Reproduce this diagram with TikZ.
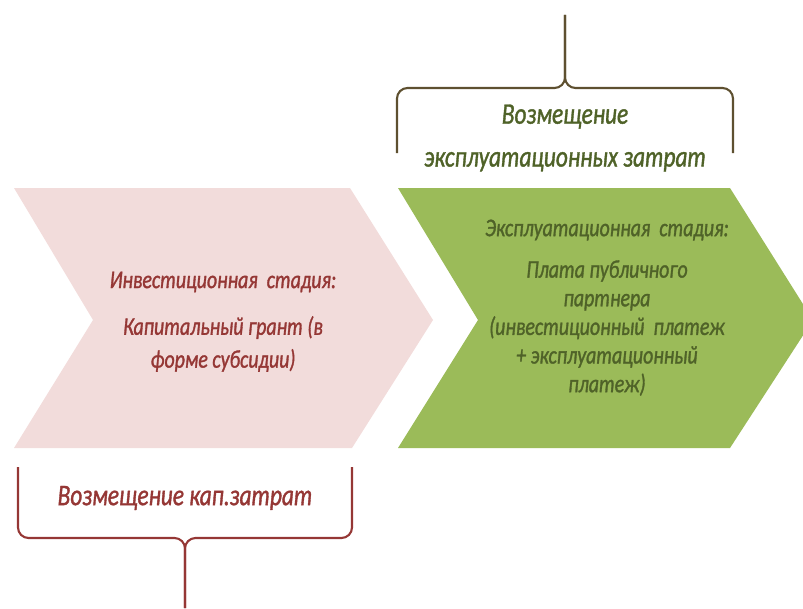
\documentclass[tikz,border=0pt]{standalone}
\usepackage{fontspec}
\setmainfont{Carlito}[ItalicFeatures={FakeStretch=0.78,FakeBold=1.2}]
\definecolor{pinkfill}{HTML}{F2DCDB}
\definecolor{pinktext}{HTML}{953735}
\definecolor{greenfill}{HTML}{9BBB59}
\definecolor{greentext}{HTML}{4F6228}
\definecolor{olivebrace}{HTML}{5E5030}
\tikzset{
  stage/.style={align=center,font=\itshape\fontsize{14.5}{17}\selectfont,inner sep=0pt},
  costlabel/.style={align=center,font=\itshape\fontsize{17}{24.4}\selectfont,inner sep=0pt},
  brace/.style={line width=1.2pt,rounded corners=6pt}
}
\def\tip{83}
\begin{document}
\begin{tikzpicture}[x=0.02cm,y=-0.02cm]
  \path[use as bounding box] (0,0) rectangle (803,608);
  \clip (0,0) rectangle (803,608);
  % chevrons
  \fill[pinkfill] (14,188) -- (350,188) -- ++(\tip,132) -- (352,448) -- (14,448) -- (93,320) -- cycle;
  \fill[greenfill] (398,188) -- (730,188) -- ++(\tip,132) -- (730,448) -- (398,448) -- (478,320) -- cycle;
  % texts
  \node[stage,text=pinktext] (invtitle) at (223,282) {Инвестиционная~ стадия:};
  \node[stage,text=pinktext,font=\itshape\fontsize{14.5}{18.7}\selectfont] (invbody) at (223,344) {Капитальный грант (в\\форме субсидии)};
  \node[stage,text=greentext] (opertitle) at (607,230) {Эксплуатационная~ стадия:};
  \node[stage,text=greentext,font=\itshape\fontsize{14.5}{16.3}\selectfont] (operbody) at (607,328) {Плата публичного\\партнера\\(инвестиционный~ платеж\\+ эксплуатационный\\платеж)};
  % braces
  \coordinate (optip) at (565,15);
  \coordinate (opmid) at (565,88);
  \draw[brace,olivebrace] (397,153) |- (opmid) -- (optip);
  \draw[brace,olivebrace] (733,153) |- (opmid) -- (optip);
  \node[costlabel,text=greentext] (opcost) at (565,138) {Возмещение\\эксплуатационных затрат};
  \coordinate (captip) at (185,608);
  \coordinate (capmid) at (185,538);
  \draw[brace,pinktext] (18,467) |- (capmid) -- (captip);
  \draw[brace,pinktext] (352,467) |- (capmid) -- (captip);
  \node[costlabel,text=pinktext] (capcost) at (185,498) {Возмещение кап.затрат};
\end{tikzpicture}
\end{document}
